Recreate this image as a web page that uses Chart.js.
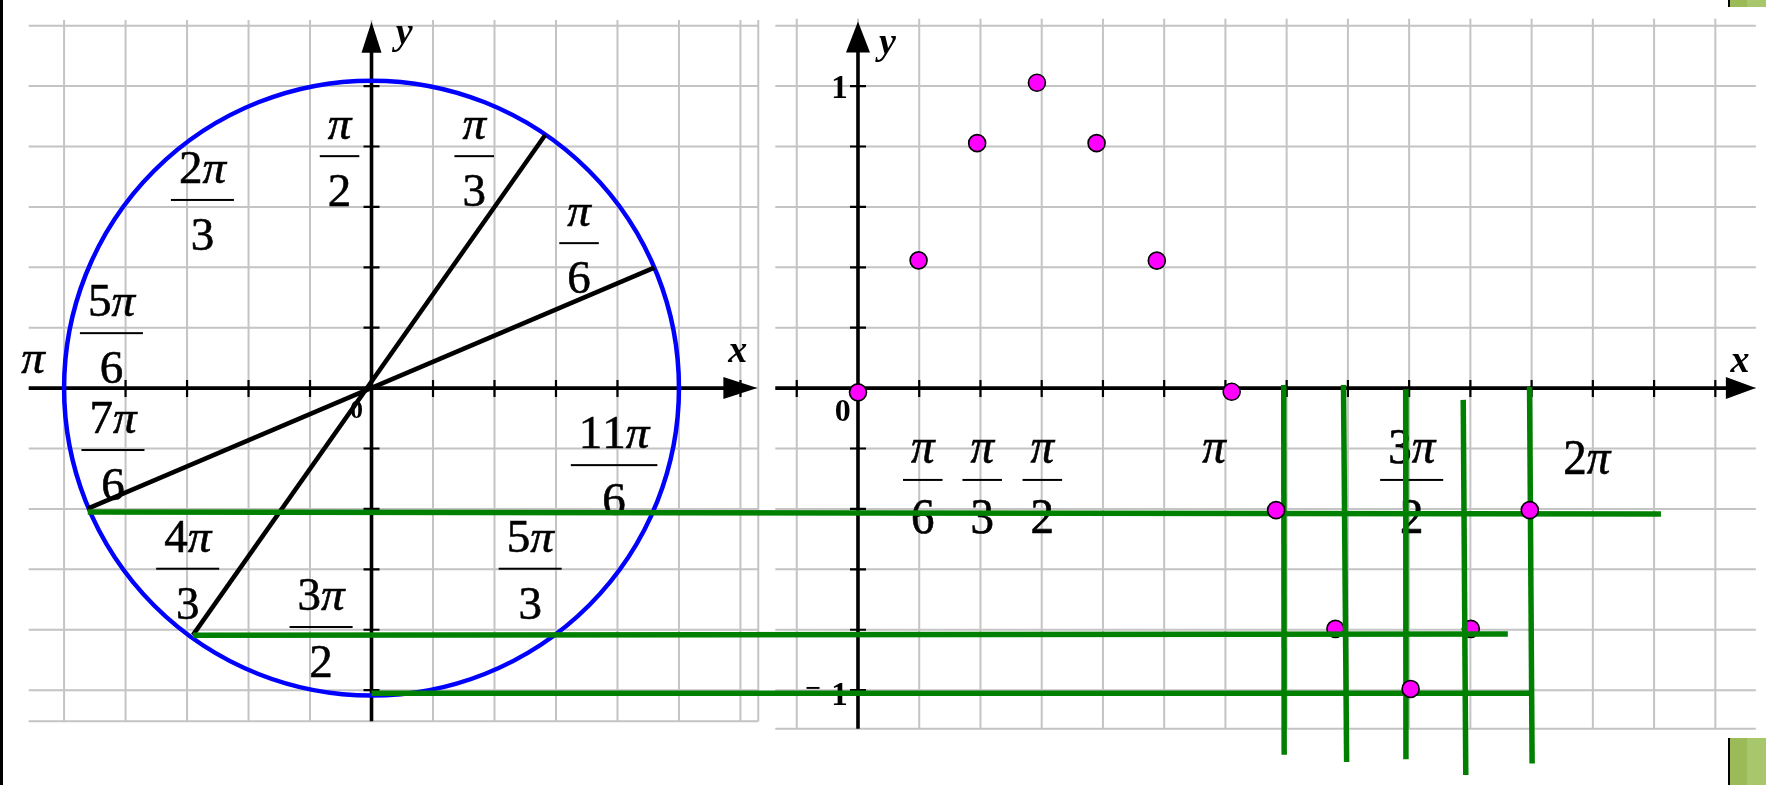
<!DOCTYPE html>
<html>
<head>
<meta charset="utf-8">
<title>sin x from the unit circle</title>
<script src="https://cdn.jsdelivr.net/npm/chart.js@4"></script>
<style>
  html, body { margin:0; padding:0; background:#fff; overflow:hidden; }
  #wrap { position:relative; width:1766px; height:785px; }
  #wrap canvas { position:absolute; left:0; top:0; }
  .edge { position:absolute; left:0; top:0; width:3px; height:785px; background:#000; }
  .tab { position:absolute; left:1728px; width:38px; box-sizing:border-box; border-left:2px solid #000;
         background:linear-gradient(90deg, #9bbb59 0 17px, #a8c76c 17px); }
</style>
</head>
<body>
<div id="wrap">
  <canvas id="chart" width="1766" height="785"></canvas>
  <div class="edge"></div>
  <div class="tab" style="top:0;height:7px"></div>
  <div class="tab" style="top:738px;height:47px"></div>
</div>
<script>
// ---- left panel: unit circle (x, y in radius units) ----
const circleGrid = [-1, -0.8, -0.6, -0.4, -0.2, 0, 0.2, 0.4, 0.6, 0.8, 1, 1.2];
const valueGrid  = [-1, -0.8, -0.6, -0.4, -0.2, 0, 0.2, 0.4, 0.6, 0.8, 1, 1.2];
const valueTicks = [-1, -0.8, -0.6, -0.4, -0.2, 0.2, 0.4, 0.6, 0.8, 1];
const rayPi6 = [{ x: -0.923, y: -0.399 }, { x: 0.920, y: 0.399 }];
const rayPi3 = [{ x: -0.581, y: -0.818 }, { x: 0.565, y: 0.838 }];
const circleLabels = [
  { num: 'π',   den: '2', x: -0.104, y: 0.768 },
  { num: 'π',   den: '3', x: 0.334,  y: 0.768 },
  { num: '2π',  den: '3', x: -0.550, y: 0.623 },
  { num: 'π',   den: '6', x: 0.675,  y: 0.480 },
  { num: '5π',  den: '6', x: -0.846, y: 0.182 },
  { num: 'π',   den: '',  x: -1.101, y: -0.005 },
  { num: '7π',  den: '6', x: -0.841, y: -0.205 },
  { num: '11π', den: '6', x: 0.789,  y: -0.255 },
  { num: '4π',  den: '3', x: -0.598, y: -0.598 },
  { num: '5π',  den: '3', x: 0.516,  y: -0.598 },
  { num: '3π',  den: '2', x: -0.164, y: -0.791 }
];

// ---- right panel: y = sin x (x in radians, grid every pi/6) ----
const sineSteps = [-1, 0, 1, 2, 3, 4, 5, 6, 7, 8, 9, 10, 11, 12, 13, 14];
const sineX = [0, 0.518, 1.019, 1.530, 2.040, 2.555, 3.195, 3.575, 4.082, 4.725, 5.240, 5.744];
const sineY = [-0.014, 0.423, 0.811, 1.011, 0.811, 0.422, -0.012, -0.404, -0.797, -0.996, -0.797, -0.404];
const underLine = [8, 10]; // these two dots sit under the green projection line
const sineLabels = [
  { num: 'π',  den: '6', x: 0.554, y: -0.304 },
  { num: 'π',  den: '3', x: 1.062, y: -0.304 },
  { num: 'π',  den: '2', x: 1.576, y: -0.304 },
  { num: 'π',  den: '',  x: 3.045, y: -0.304 },
  { num: '3π', den: '2', x: 4.734, y: -0.304 },
  { num: '2π', den: '',  x: 6.232, y: -0.341 }
];

// ---- green projection lines ----
const projH = [ // from the circle across to the graph (circle units)
  [{ x: -0.923, y: -0.410 }, { x: 4.194, y: -0.417 }],
  [{ x: -0.581, y: -0.818 }, { x: 3.696, y: -0.814 }],
  [{ x: 0,      y: -1.010 }, { x: 3.773, y: -1.010 }]
];
const projV = [ // verticals on the graph (radians)
  [{ x: 3.640, y: 0.010 },  { x: 3.644, y: -1.214 }],
  [{ x: 4.151, y: 0.010 },  { x: 4.178, y: -1.238 }],
  [{ x: 4.683, y: -0.004 }, { x: 4.685, y: -1.229 }],
  [{ x: 5.175, y: -0.039 }, { x: 5.197, y: -1.300 }],
  [{ x: 5.742, y: 0.004 },  { x: 5.764, y: -1.243 }]
];

// axis names and numbers, anchored at their baselines
const axisText = [
  { t: 'y', s: 'xL', x: 0.106,  y: 1.139,  font: 'italic bold 38px "Liberation Serif", serif' },
  { t: 'x', s: 'xL', x: 1.191,  y: 0.085,  font: 'italic bold 38px "Liberation Serif", serif' },
  { t: 'y', s: 'xR', x: 0.252,  y: 1.105,  font: 'italic bold 38px "Liberation Serif", serif' },
  { t: 'x', s: 'xR', x: 7.541,  y: 0.053,  font: 'italic bold 38px "Liberation Serif", serif' },
  { t: '0', s: 'xL', x: -0.049, y: -0.098, font: 'bold 26px "Liberation Serif", serif' },
  { t: '0', s: 'xR', x: -0.130, y: -0.109, font: 'bold 32px "Liberation Serif", serif' },
  { t: '1', s: 'xR', x: -0.159, y: 0.959,  font: 'bold 33px "Liberation Serif", serif' },
  { t: '1', s: 'xR', x: -0.159, y: -1.049, font: 'bold 33px "Liberation Serif", serif' },
  { t: '−', s: 'xR', x: -0.382, y: -1.024, font: 'bold 28px "Liberation Serif", serif' }
];

// panel extents in data units
const leftPanel  = { x0: -1.115, x1: 1.258, top: 1.219, bottom: -1.103, tipX: 1.255, tipY: 1.213 };
const rightPanel = { x0: -0.707, x1: 7.677, top: 1.223, bottom: -1.128, tipX: 7.677, tipY: 1.214 };

const GREEN = '#008000';
const GRID = '#c4c4c4';
const SERIF = '"Liberation Serif", "Times New Roman", serif';

function mathText(ctx, s, cx, base, size, sy) {
  const parts = [...s].map(ch => ({ ch, font: (ch === 'π' ? 'italic ' : '') + size + 'px ' + SERIF }));
  let w = 0;
  parts.forEach(p => { ctx.font = p.font; p.w = ctx.measureText(p.ch).width; w += p.w; });
  let x = cx - w / 2;
  parts.forEach(p => {
    ctx.save();
    ctx.translate(x, base);
    ctx.scale(1, sy);
    ctx.font = p.font;
    ctx.fillText(p.ch, 0, 0);
    ctx.lineWidth = 0.6;
    ctx.strokeText(p.ch, 0, 0);
    ctx.restore();
    x += p.w;
  });
  return w;
}

function drawLabel(ctx, lab, xs, ys, size, sy, up, down) {
  const cx = xs.getPixelForValue(lab.x);
  const ref = ys.getPixelForValue(lab.y);
  const wn = mathText(ctx, lab.num, cx, ref - up, size, sy);
  if (lab.den) {
    const wd = mathText(ctx, lab.den, cx, ref + down, size, sy);
    const bw = Math.max(wn, wd) + 16;
    ctx.fillRect(cx - bw / 2, ref - 1, bw, 2);
  }
}

const board = {
  id: 'board',
  beforeDatasetsDraw(chart) {
    const { ctx } = chart;
    const { xL, xR, y } = chart.scales;
    const L = leftPanel, R = rightPanel;
    const step = Math.PI / 6;
    ctx.save();

    // grids
    ctx.strokeStyle = GRID;
    ctx.lineWidth = 2;
    ctx.beginPath();
    const lx0 = xL.getPixelForValue(L.x0), lx1 = xL.getPixelForValue(L.x1);
    const lt = y.getPixelForValue(L.top), lb = y.getPixelForValue(L.bottom);
    circleGrid.forEach(v => { const p = xL.getPixelForValue(v); ctx.moveTo(p, lt); ctx.lineTo(p, lb); });
    valueGrid.concat([L.bottom]).forEach(v => { const p = y.getPixelForValue(v); ctx.moveTo(lx0, p); ctx.lineTo(lx1, p); });
    ctx.moveTo(lx1, lt); ctx.lineTo(lx1, lb);
    const rx0 = xR.getPixelForValue(R.x0), rx1 = xR.getPixelForValue(R.x1);
    const rt = y.getPixelForValue(R.top), rb = y.getPixelForValue(R.bottom);
    sineSteps.forEach(k => { const p = xR.getPixelForValue(k * step); ctx.moveTo(p, rt); ctx.lineTo(p, rb); });
    valueGrid.concat([R.bottom]).forEach(v => { const p = y.getPixelForValue(v); ctx.moveTo(rx0, p); ctx.lineTo(rx1, p); });
    ctx.stroke();

    // axes
    ctx.strokeStyle = '#000';
    ctx.fillStyle = '#000';
    const oy = y.getPixelForValue(0);
    const oL = xL.getPixelForValue(0), oR = xR.getPixelForValue(0);
    const ltx = xL.getPixelForValue(L.tipX), lty = y.getPixelForValue(L.tipY);
    const rtx = xR.getPixelForValue(R.tipX), rty = y.getPixelForValue(R.tipY);
    ctx.lineWidth = 3.6;
    ctx.beginPath();
    ctx.moveTo(lx0, oy); ctx.lineTo(ltx - 20, oy);
    ctx.moveTo(oL, lb); ctx.lineTo(oL, lty + 20);
    ctx.moveTo(rx0, oy); ctx.lineTo(rtx - 20, oy);
    ctx.moveTo(oR, rb); ctx.lineTo(oR, rty + 20);
    ctx.stroke();

    const right = (tx, cy, len, half) => { ctx.beginPath(); ctx.moveTo(tx, cy); ctx.lineTo(tx - len, cy - half); ctx.lineTo(tx - len, cy + half); ctx.closePath(); ctx.fill(); };
    const upward = (cx, ty, len, half) => { ctx.beginPath(); ctx.moveTo(cx, ty); ctx.lineTo(cx - half, ty + len); ctx.lineTo(cx + half, ty + len); ctx.closePath(); ctx.fill(); };
    right(ltx, oy, 34, 11);
    upward(oL, lty, 31, 10);
    right(rtx, oy, 30, 11);
    upward(oR, rty, 31, 12);

    // ticks
    ctx.lineWidth = 2.2;
    ctx.beginPath();
    circleGrid.filter(v => v !== 0).forEach(v => { const p = xL.getPixelForValue(v); ctx.moveTo(p, oy - 8); ctx.lineTo(p, oy + 9); });
    sineSteps.filter(k => k !== 0).forEach(k => { const p = xR.getPixelForValue(k * step); ctx.moveTo(p, oy - 8); ctx.lineTo(p, oy + 9); });
    valueTicks.forEach(v => {
      const p = y.getPixelForValue(v);
      ctx.moveTo(oL - 8, p); ctx.lineTo(oL + 8, p);
      ctx.moveTo(oR - 8, p); ctx.lineTo(oR + 8, p);
    });
    ctx.stroke();

    // angle labels and graph tick labels
    ctx.textAlign = 'left';
    ctx.textBaseline = 'alphabetic';
    circleLabels.forEach(lab => drawLabel(ctx, lab, xL, y, 47, 1, 17, 50));
    sineLabels.forEach(lab => drawLabel(ctx, lab, xR, y, 47, 1.1, 17, 53));

    ctx.textAlign = 'center';
    axisText.forEach(a => {
      ctx.font = a.font;
      ctx.fillText(a.t, chart.scales[a.s].getPixelForValue(a.x), y.getPixelForValue(a.y));
    });
    ctx.restore();
  }
};

const lineDs = (data, xAxisID, color, width, order) => ({
  data, xAxisID, yAxisID: 'y', order,
  showLine: true, borderColor: color, borderWidth: width, borderCapStyle: 'butt',
  pointRadius: 0, fill: false, tension: 0
});
const dotDs = (idx, order) => ({
  data: idx.map(i => ({ x: sineX[i], y: sineY[i] })),
  xAxisID: 'xR', yAxisID: 'y', order, showLine: false,
  pointRadius: 8.5, pointBorderWidth: 1.6,
  pointBackgroundColor: '#ff00ff', pointBorderColor: '#000'
});
const allIdx = sineX.map((_, i) => i);

const datasets = [
  dotDs(allIdx.filter(i => !underLine.includes(i)), 0),
  ...projH.map(d => lineDs(d, 'xL', GREEN, 5.5, 1)),
  ...projV.map(d => lineDs(d, 'xR', GREEN, 5.5, 1)),
  dotDs(underLine, 2),
  lineDs(rayPi6, 'xL', '#000', 4.5, 3),
  lineDs(rayPi3, 'xL', '#000', 4.5, 3),
  { // unit circle: one point at the origin, radius = 1 on the xL scale
    data: [{ x: 0, y: 0 }], xAxisID: 'xL', yAxisID: 'y', order: 4, showLine: false,
    pointRadius: c => c.chart.scales.xL.getPixelForValue(1) - c.chart.scales.xL.getPixelForValue(0),
    pointBorderWidth: 4.5, pointBorderColor: '#0000ff', pointBackgroundColor: 'rgba(0,0,0,0)'
  }
];

const hidden = (min, max) => ({ type: 'linear', display: false, bounds: 'data', min, max });

new Chart(document.getElementById('chart'), {
  type: 'scatter',
  data: { datasets },
  options: {
    responsive: false,
    animation: false,
    devicePixelRatio: 1,
    events: [],
    layout: { padding: 0 },
    plugins: { legend: { display: false }, tooltip: { enabled: false } },
    scales: {
      xL: hidden(-1.17556, 4.50289),
      xR: hidden(-7.2496, 7.6773),
      y: hidden(-1.28065, 1.25161)
    }
  },
  plugins: [board]
});
</script>
</body>
</html>
